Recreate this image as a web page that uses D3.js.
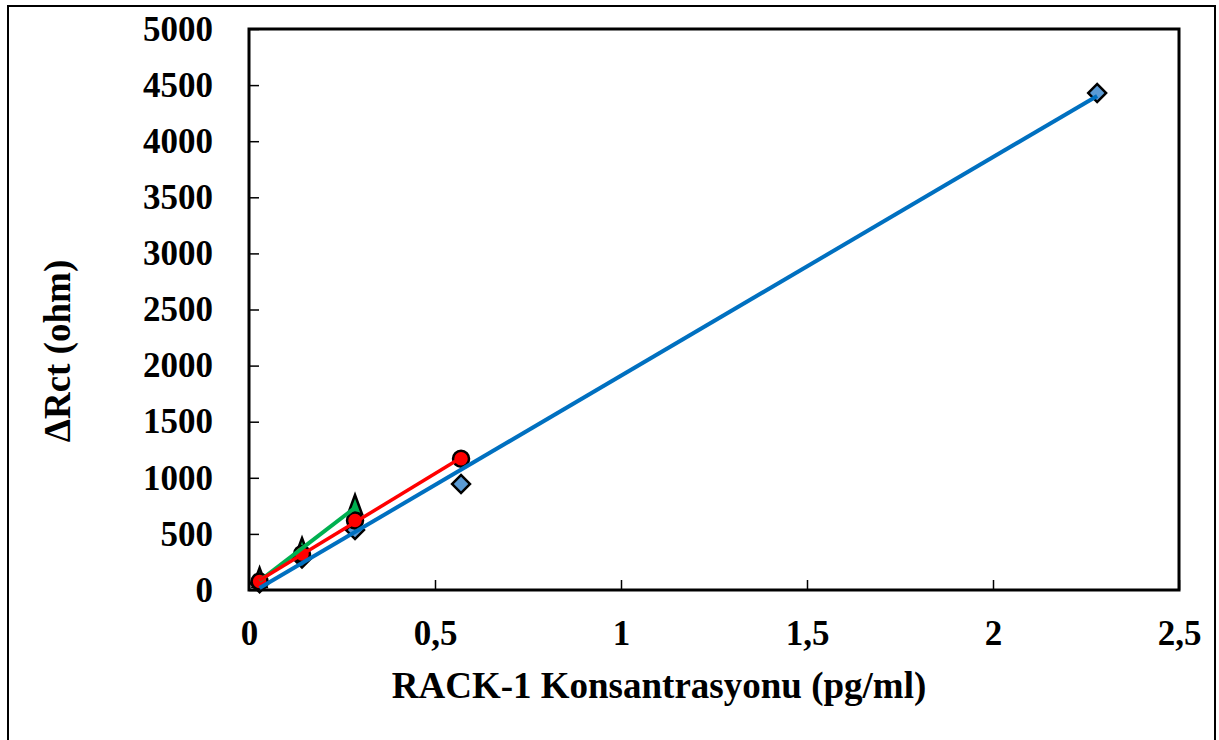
<!DOCTYPE html>
<html>
<head>
<meta charset="utf-8">
<script src="https://cdn.jsdelivr.net/npm/d3@7"></script>
<style>
  body { margin: 0; background: #fff; }
  text { font-family: "Liberation Serif", "Times New Roman", serif; font-weight: bold; }
</style>
</head>
<body>
<div id="canvas"></div>
<script>
// series
var blueX = [0.0285, 0.1425, 0.285, 0.57, 2.28]
var blueY = [60, 280, 535, 945, 4430]
var redX = [0.0285, 0.1425, 0.285, 0.57]
var redY = [75, 320, 620, 1170]
var greenX = [0.0285, 0.1425, 0.285]
var greenY = [90, 356, 740]

var xTicks = [0, 0.5, 1, 1.5, 2, 2.5]
var yTicks = [0, 500, 1000, 1500, 2000, 2500, 3000, 3500, 4000, 4500, 5000]

var W = 1219, H = 740
var margin = {top: 29, right: 40, bottom: 150, left: 249}
var width = 1179 - margin.left,
  height = 590 - margin.top

var svg = d3.select('#canvas')
  .append('svg')
  .attr('width', W)
  .attr('height', H)

// outer chart border
svg.append('rect')
  .attr('x', 8).attr('y', 6)
  .attr('width', 1207).attr('height', 760)
  .attr('fill', 'none')
  .attr('stroke', '#000')
  .attr('stroke-width', 2)

var g = svg.append('g')
  .attr('transform', 'translate(' + margin.left + ',' + margin.top + ')')

var x = d3.scaleLinear().domain([0, 2.5]).range([0, width])
var y = d3.scaleLinear().domain([0, 5000]).range([height, 0])

var fmt = d => String(d).replace('.', ',')

g.append('g')
  .attr('transform', 'translate(0,' + height + ')')
  .call(d3.axisBottom(x).tickValues(xTicks).tickFormat(fmt).tickSizeInner(-10).tickSizeOuter(0).tickPadding(30))
  .call(a => a.select('.domain').remove())
  .call(a => a.selectAll('line').attr('stroke-width', 1.5))
  .call(a => a.selectAll('text').attr('font-size', 35).attr('font-family', null))

g.append('g')
  .call(d3.axisLeft(y).tickValues(yTicks).tickFormat(d3.format('d')).tickSizeInner(-10).tickSizeOuter(0).tickPadding(36))
  .call(a => a.select('.domain').remove())
  .call(a => a.selectAll('line').attr('stroke-width', 1.5))
  .call(a => a.selectAll('text').attr('font-size', 35).attr('font-family', null))

g.append('rect')
  .attr('width', width).attr('height', height)
  .attr('fill', 'none')
  .attr('stroke', '#000')
  .attr('stroke-width', 3)

function pts (xs, ys) { return xs.map((d, i) => [d, ys[i]]) }

function fit (xs, ys) {
  var mx = d3.mean(xs), my = d3.mean(ys)
  var sxy = d3.sum(xs, (d, i) => (d - mx) * (ys[i] - my))
  var sxx = d3.sum(xs, d => (d - mx) * (d - mx))
  var b = sxy / sxx, a = my - b * mx
  var x0 = d3.min(xs), x1 = d3.max(xs)
  return [[x0, a + b * x0], [x1, a + b * x1]]
}

var line = d3.line().x(d => x(d[0])).y(d => y(d[1]))

// markers
g.append('g').selectAll('path')
  .data(pts(blueX, blueY))
  .enter().append('path')
  .attr('d', d3.symbol(d3.symbolSquare, 160))
  .attr('transform', d => 'translate(' + x(d[0]) + ',' + y(d[1]) + ') rotate(45)')
  .attr('fill', '#5B9BD5')
  .attr('stroke', '#000')
  .attr('stroke-width', 2.5)

g.append('g').selectAll('path')
  .data(pts(greenX, greenY))
  .enter().append('path')
  .attr('d', 'M0,-12 L7,7 L-7,7 Z')
  .attr('transform', d => 'translate(' + x(d[0]) + ',' + y(d[1]) + ')')
  .attr('fill', '#00B050')
  .attr('stroke', '#000')
  .attr('stroke-width', 2.5)

g.append('g').selectAll('circle')
  .data(pts(redX, redY))
  .enter().append('circle')
  .attr('cx', d => x(d[0]))
  .attr('cy', d => y(d[1]))
  .attr('r', 8)
  .attr('fill', '#FF0000')
  .attr('stroke', '#000')
  .attr('stroke-width', 2.5)

// linear trend lines
g.append('path').attr('d', line(fit(blueX, blueY)))
  .attr('stroke', '#0070C0').attr('stroke-width', 4).attr('fill', 'none')
g.append('path').attr('d', line(fit(greenX, greenY)))
  .attr('stroke', '#00B050').attr('stroke-width', 4).attr('fill', 'none')
g.append('path').attr('d', line(fit(redX, redY)))
  .attr('stroke', '#FF0000').attr('stroke-width', 3.5).attr('fill', 'none')

// axis titles
svg.append('text')
  .attr('x', 659).attr('y', 698)
  .attr('text-anchor', 'middle')
  .attr('font-size', 37)
  .text('RACK-1 Konsantrasyonu (pg/ml)')

svg.append('text')
  .attr('transform', 'translate(70,351) rotate(-90)')
  .attr('text-anchor', 'middle')
  .attr('font-size', 37)
  .text('ΔRct (ohm)')
</script>
</body>
</html>
